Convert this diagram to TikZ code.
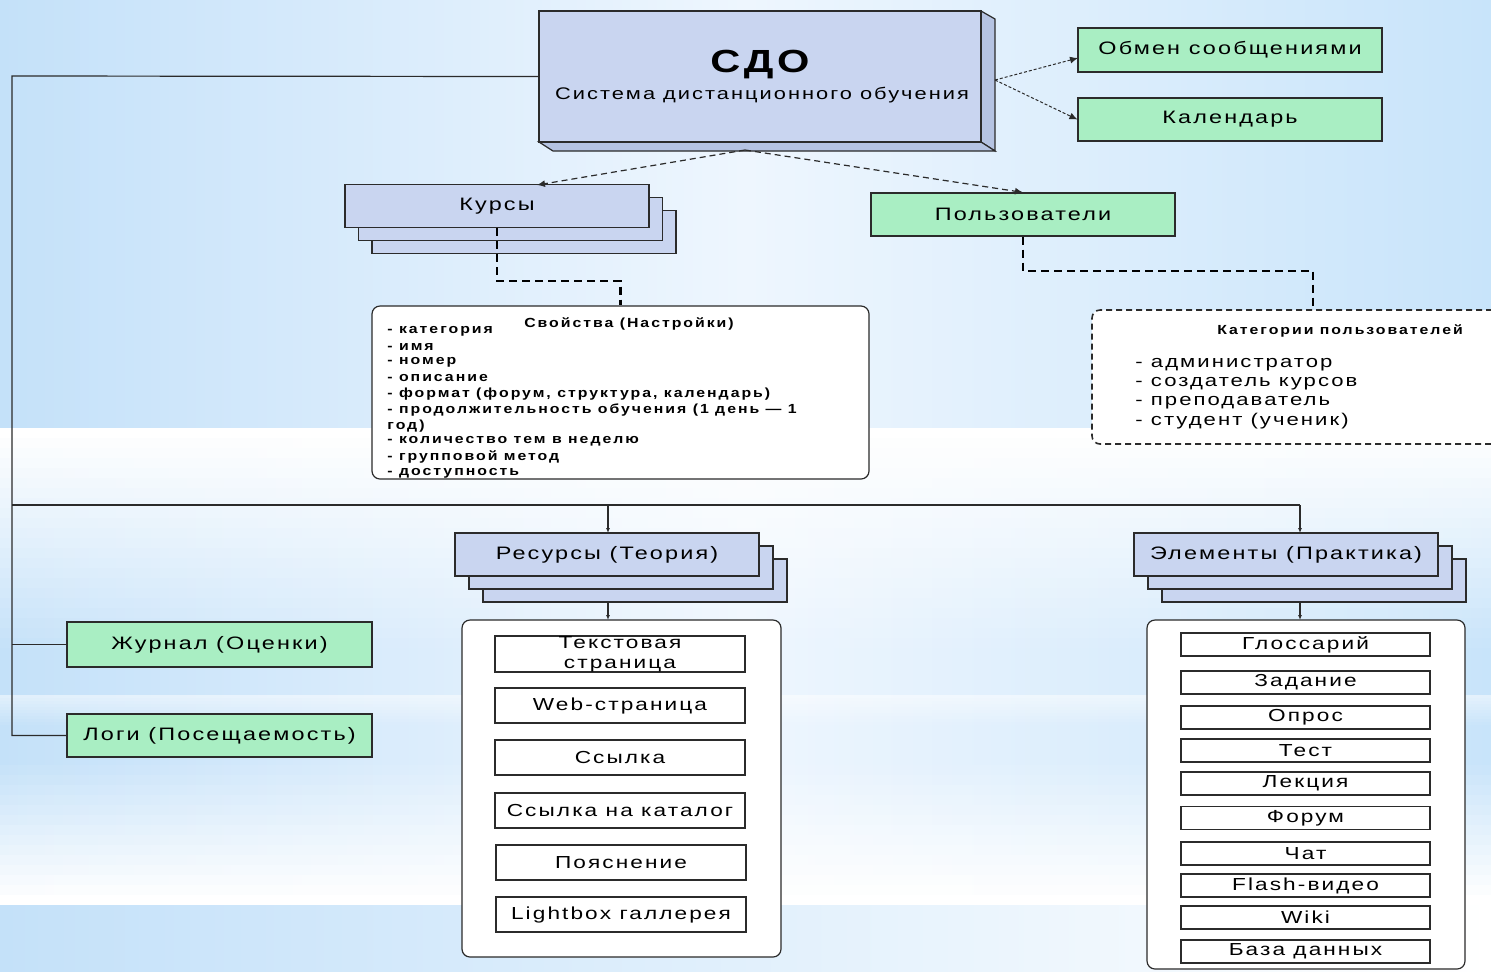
\documentclass[tikz,border=0pt]{standalone}
\usepackage{fontspec}
\setmainfont{Liberation Sans}
\newfontfamily\wf[FakeStretch=1.3,LetterSpace=12]{Liberation Sans}
\newfontfamily\pf[FakeStretch=1.2,LetterSpace=15]{Liberation Sans}
\usetikzlibrary{arrows.meta}
\definecolor{boxblue}{HTML}{C9D5F0}
\definecolor{boxblueside}{HTML}{B5C3E2}
\definecolor{boxgreen}{HTML}{A9EEC3}
\definecolor{bgl}{HTML}{C4E1F9}
\definecolor{bgm}{HTML}{EEF6FE}
\definecolor{bgr}{HTML}{C8E4FA}
\definecolor{ln}{HTML}{2B2B2B}
\begin{document}
\begin{tikzpicture}[x=0.5pt,y=-0.5pt,line join=miter,
  lbl/.style={font=\wf\fontsize{9}{11}\selectfont, text=black},
  bluebox/.style={draw=ln, fill=boxblue, line width=0.6pt, inner sep=0pt, lbl, minimum width=152pt, minimum height=21.5pt},
  greenbox/.style={draw=ln, fill=boxgreen, line width=0.6pt, inner sep=0pt, lbl, minimum width=152pt},
  itembox/.style={draw=ln, fill=white, line width=0.6pt, inner sep=0pt, align=center, font=\wf\fontsize{8.7}{10}\selectfont},
  container/.style={draw=ln, fill=white, line width=0.6pt, rounded corners=4pt, inner sep=0pt},
  conn/.style={draw=ln, line width=0.6pt},
  tip/.style={-{Latex[length=2.5pt,width=2pt]}},
  dasharrow/.style={conn, dash pattern=on 3pt off 2pt, -{Latex[length=4pt,width=3.5pt]}},
  dotarrow/.style={conn, line width=0.5pt, dash pattern=on 1.5pt off 1pt, -{Latex[length=4pt,width=3.5pt]}},
  thickdash/.style={draw=black, line width=1.1pt, dash pattern=on 4pt off 2.5pt},
  proptext/.style={font=\pf\bfseries\fontsize{6.6}{8}\selectfont, inner sep=0pt, anchor=west},
  cattext/.style={font=\wf\fontsize{8.5}{10}\selectfont, inner sep=0pt, anchor=west},
]
\useasboundingbox (0,0) rectangle (1491,971);
\clip (0,0) rectangle (1491,971);
% background
\shade[left color=bgl, right color=bgr, middle color=bgm] (0,0) rectangle (1491,971);
\foreach \k in {0,...,21}
  \fill[white, opacity={1-\k/22}] (0,{428+\k*10}) rectangle (1491,{438+\k*10});
\foreach \k in {0,...,9}
  \fill[white, opacity={0.5-\k/20}] (0,{695+\k*3}) rectangle (1491,{698+\k*3});
\foreach \k in {0,...,14}
  \fill[white, opacity={\k/14}] (0,{755+\k*10}) rectangle (1491,{765+\k*10});
\shade[left color=bgl, right color=white] (0,905) rectangle (1491,971);

% SDO 3D box
\fill[boxblueside, draw=ln, line width=0.6pt] (981,11) -- (995,19) -- (995,151) -- (981,142) -- cycle;
\fill[boxblueside, draw=ln, line width=0.6pt] (539,142) -- (553,151) -- (995,151) -- (981,142) -- cycle;
\node[draw=ln, fill=boxblue, line width=0.6pt, minimum width=221pt, minimum height=65.5pt, inner sep=0pt] (sdo) at (760,76.5) {};
\node[font=\wf\bfseries\fontsize{16}{18}\selectfont, inner sep=0pt] (sdot) at (760,65) {СДО};
\node[font=\wf\fontsize{8.4}{10}\selectfont, inner sep=0pt] (sdos) at (762,95) {Система дистанционного обучения};

% green boxes top right
\node[greenbox, minimum height=22pt] (msg) at (1230,50) {Обмен сообщениями};
\node[greenbox, minimum height=21.5pt] (cal) at (1230,119.5) {Календарь};
\coordinate (sdor) at (995,80);
\coordinate (msgw) at (1078,58);
\draw[dotarrow] (sdor) -- (msgw);
\draw[dotarrow] (sdor) -- (cal.west);

% Kursy stack
\node[bluebox] (kursy3) at (524,232) {};
\node[bluebox] (kursy2) at (510.5,219) {};
\node[bluebox] (kursy) at (497,206) {Курсы};

% Users
\node[greenbox, minimum height=21.5pt] (users) at (1023,214.5) {Пользователи};

\coordinate (sdob) at (745,150);
\coordinate (kt) at (537,185);
\draw[dasharrow] (sdob) -- (kt);
\draw[dasharrow] (sdob) -- (users.north);

% Properties box
\node[container, minimum width=248.5pt, minimum height=86.5pt] (props) at (620.5,392.5) {};
\node[font=\pf\bfseries\fontsize{6.6}{8}\selectfont, inner sep=0pt] (propt) at (629,324) {Свойства (Настройки)};
\foreach \t [count=\i] in {{- категория},{- имя},{- номер},{- описание},{- формат (форум, структура, календарь)},{- продолжительность обучения (1 день — 1},{год)},{- количество тем в неделю},{- групповой метод},{- доступность}}
  \node[proptext] (p\i) at (387,{331+15.8*(\i-1)}) {\t};
\draw[thickdash] (kursy.south) -- ++(0,53) -| (props.north);

% Categories
\node[container, dash pattern=on 3pt off 2pt, line width=0.8pt, minimum width=204pt, minimum height=67pt] (cats) at (1296,377) {};
\node[font=\pf\bfseries\fontsize{6.6}{8}\selectfont, inner sep=0pt] (catt) at (1340,331) {Категории пользователей};
\node[cattext] (c1) at (1135,365) {- администратор};
\node[cattext] (c2) at (1135,383.7) {- создатель курсов};
\node[cattext] (c3) at (1135,402.4) {- преподаватель};
\node[cattext] (c4) at (1135,421.1) {- студент (ученик)};
\coordinate (ct) at (1313,310);
\draw[thickdash] (users.south) -- ++(0,34) -| (ct);

% Left green boxes
\node[greenbox, minimum width=152.5pt, minimum height=22.5pt] (zh) at (219.5,644.5) {Журнал (Оценки)};
\node[greenbox, minimum width=152.5pt, minimum height=21.5pt] (logi) at (219.5,735.5) {Логи (Посещаемость)};

% Resources stack
\node[bluebox] (res3) at (635,580.5) {};
\node[bluebox] (res2) at (621,567.5) {};
\node[bluebox] (res) at (607,554.5) {Ресурсы (Теория)};
% Elements stack
\node[bluebox] (el3) at (1314,580.5) {};
\node[bluebox] (el2) at (1300,567.5) {};
\node[bluebox] (el) at (1286,554.5) {Элементы (Практика)};

% bus lines
\coordinate (L0) at (12,76);
\coordinate (L1) at (12,505);
\coordinate (B2) at (1300,505);
\coordinate (rt) at (608,533);
\coordinate (et) at (1300,533);
\draw[conn] (sdo.west) -- (L0) |- (logi.west);
\draw[conn] (L0 |- zh.west) -- (zh.west);
\draw[conn] (L1) -- (B2);
\draw[conn,tip] (B2) -- (et);
\draw[conn,tip] (rt |- L1) -- (rt);

% Resources container
\node[container, minimum width=159.5pt, minimum height=168.5pt] (rescont) at (621.5,788.5) {};
\coordinate (rb) at (608,602);
\coordinate (rc) at (608,620);
\draw[conn,tip] (rb) -- (rc);
\node[itembox, minimum width=125pt, minimum height=18pt, font=\wf\fontsize{8.7}{10}\selectfont] (r1) at (620,654) {Текстовая\\[0pt]страница};
\node[itembox, minimum width=125pt, minimum height=17.5pt] (r2) at (620,705.5) {Web-страница};
\node[itembox, minimum width=125pt, minimum height=17.5pt] (r3) at (620,757.5) {Ссылка};
\node[itembox, minimum width=125pt, minimum height=17.5pt] (r4) at (620,810.5) {Ссылка на каталог};
\node[itembox, minimum width=125pt, minimum height=17.5pt] (r5) at (621,862.5) {Пояснение};
\node[itembox, minimum width=125pt, minimum height=17.5pt] (r6) at (621,914.5) {Lightbox галлерея};

% Elements container
\node[container, minimum width=159pt, minimum height=174.5pt] (elcont) at (1306,794.5) {};
\coordinate (eb) at (1300,602);
\coordinate (ec) at (1300,620);
\draw[conn,tip] (eb) -- (ec);
\foreach \t/\yy [count=\i] in {Глоссарий/644.5,Задание/682.5,Опрос/717.5,Тест/750.5,Лекция/783.5,Форум/818,Чат/853.5,Flash-видео/885.5,Wiki/917.5,База данных/951.5}
  \node[itembox, minimum width=124.5pt, minimum height=11.5pt] (e\i) at (1305.5,\yy) {\t};
\end{tikzpicture}
\end{document}
